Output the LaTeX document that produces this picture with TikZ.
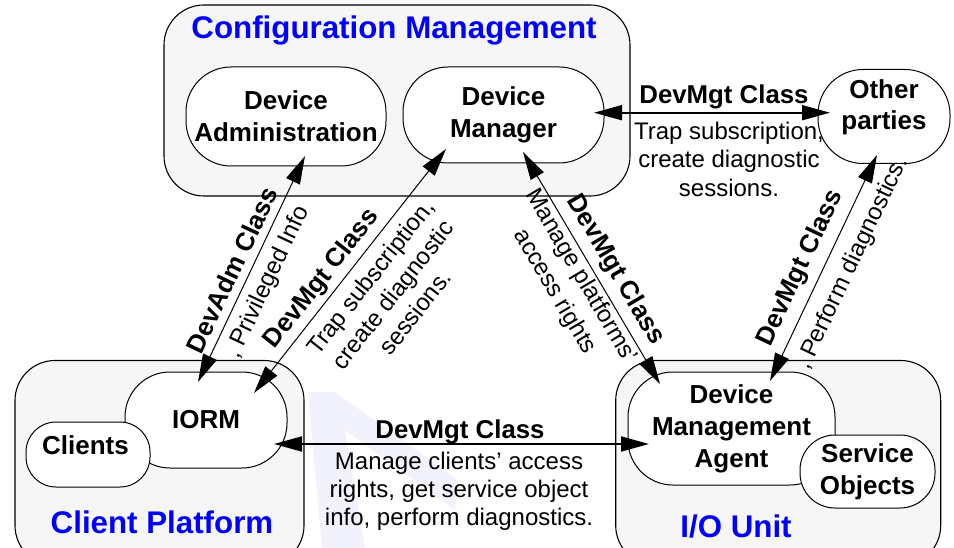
\documentclass[tikz,border=0pt]{standalone}
\usepackage{fontspec}
\setmainfont{Liberation Sans}
\usetikzlibrary{arrows.meta}
\definecolor{boxgray}{RGB}{246,246,246}
\definecolor{titleblue}{RGB}{0,0,255}
\definecolor{wmark}{RGB}{242,242,252}
\begin{document}
\begin{tikzpicture}[x=1pt,y=-1pt,
  grp/.style={draw, line width=1.1pt, fill=boxgray, rounded corners=40pt, inner sep=0pt},
  pill/.style={draw, line width=1pt, fill=white, inner sep=0pt, align=center, font=\bfseries\fontsize{26}{32}\selectfont},
  pilltext/.style={inner sep=0pt, align=center, font=\bfseries\fontsize{26}{31}\selectfont},
  ttl/.style={text=titleblue, font=\bfseries\fontsize{31.3}{36}\selectfont, inner sep=0pt, anchor=base},
  lblb/.style={font=\bfseries\fontsize{25.8}{30}\selectfont, inner sep=0pt},
  lblr/.style={font=\fontsize{24}{28.6}\selectfont, inner sep=0pt, align=center},
  conn/.style={line width=1pt, {Triangle[length=28pt,width=15pt]}-{Triangle[length=28pt,width=15pt]}},
  hconn/.style={conn, line width=1.8pt},
]
\path[use as bounding box] (0,0) rectangle (954,548);
\clip (0,0) rectangle (954,548);

% faint watermark
\fill[wmark] (308,392) -- (335,392) -- (458,480) -- (455,510) -- (345,430) -- (365,548) -- (322,548) -- cycle;

% Configuration Management
\node[grp, minimum width=466pt, minimum height=191pt] (cmbox) at (397,100.5) {};
\node[ttl] (cmtitle) at (394,39) {Configuration Management};
\node[pill, rounded corners=45pt, minimum width=200pt, minimum height=99pt] (da) at (286,116.5) {Device\\Administration};
\node[pill, rounded corners=45pt, minimum width=201pt, minimum height=96pt] (dm) at (503.5,115) {Device\\Manager};

% Other parties
\node[pill, rounded corners=45pt, minimum width=132pt, minimum height=94pt] (op) at (884,116.5) {};
\node[pilltext] (optxt) at (884,107) {Other\\parties};

% Client Platform
\node[grp, minimum width=289pt, minimum height=205pt] (cpbox) at (159.5,463) {};
\node[ttl] (cptitle) at (162,533) {Client Platform};
\node[pill, rounded corners=45pt, minimum width=162pt, minimum height=96pt] (iorm) at (206,420) {IORM};
\node[pill, rounded corners=30pt, minimum width=124pt, minimum height=65pt] (cl) at (88,454.5) {};
\node[pilltext] (cltxt) at (85.5,445.5) {Clients};

% I/O Unit
\node[grp, minimum width=325pt, minimum height=205pt] (iobox) at (778.2,463) {};
\node[ttl] (iotitle) at (736,537) {I/O Unit};
\node[pill, rounded corners=45pt, minimum width=207pt, minimum height=113pt] (dma) at (731.5,428.5) {Device\\Management\\Agent};
\node[pill, rounded corners=35pt, minimum width=135pt, minimum height=73pt] (so) at (867.5,471.5) {Service\\Objects};

% connectors
\draw[hconn] ([shift={(90.5,-2.3)}]dm.center) -- ([shift={(-54,-3.8)}]op.center);
\draw[conn] ([shift={(-8,-38)}]iorm.center) -- ([shift={(19,39.5)}]da.center);
\draw[conn] ([shift={(48,-27)}]iorm.center) -- ([shift={(-57.5,34)}]dm.center);
\draw[conn] ([shift={(19.5,37)}]dm.center) -- ([shift={(-71.5,-44.5)}]dma.center);
\draw[conn] ([shift={(-7,38.5)}]op.center) -- ([shift={(38.5,-47.5)}]dma.center);
\draw[hconn] ([shift={(68,24)}]iorm.center) -- ([shift={(-82.5,15.5)}]dma.center);

% labels
\node[lblb, anchor=base] (lb5) at (724,103.3) {DevMgt Class};
\node[lblr, font=\fontsize{24}{28.7}\selectfont] (lr5) at (729,159.4) {Trap subscription,\\create diagnostic\\sessions.};

\node[lblb, rotate=64.7] (lb1) at (232,270) {DevAdm Class};
\node[lblr, rotate=64.7] (lr1) at (268,282.5) {, Privileged Info};

\node[lblb, rotate=51.8] (lb2) at (322,279) {DevMgt Class};
\node[lblr, rotate=51.8] (lr2) at (392.5,294.5) {Trap subscription,\\create diagnostic\\sessions.};

\node[lblb, rotate=-59.4] (lb3) at (615,270) {DevMgt Class};
\node[lblr, rotate=-59.4, font=\fontsize{24}{30.6}\selectfont] (lr3) at (567.5,284) {Manage platforms’\\access rights};

\node[lblb, rotate=64.6] (lb4) at (800.5,268) {DevMgt Class};
\node[lblr, rotate=64.6] (lr4) at (852.5,263.5) {, Perform diagnostics.};

\node[lblb, anchor=base] (lb6) at (460,438) {DevMgt Class};
\node[lblr, font=\fontsize{24}{28.3}\selectfont] (lr6) at (459,491.2) {Manage clients’ access\\rights, get service object\\info, perform diagnostics.};
\end{tikzpicture}
\end{document}
